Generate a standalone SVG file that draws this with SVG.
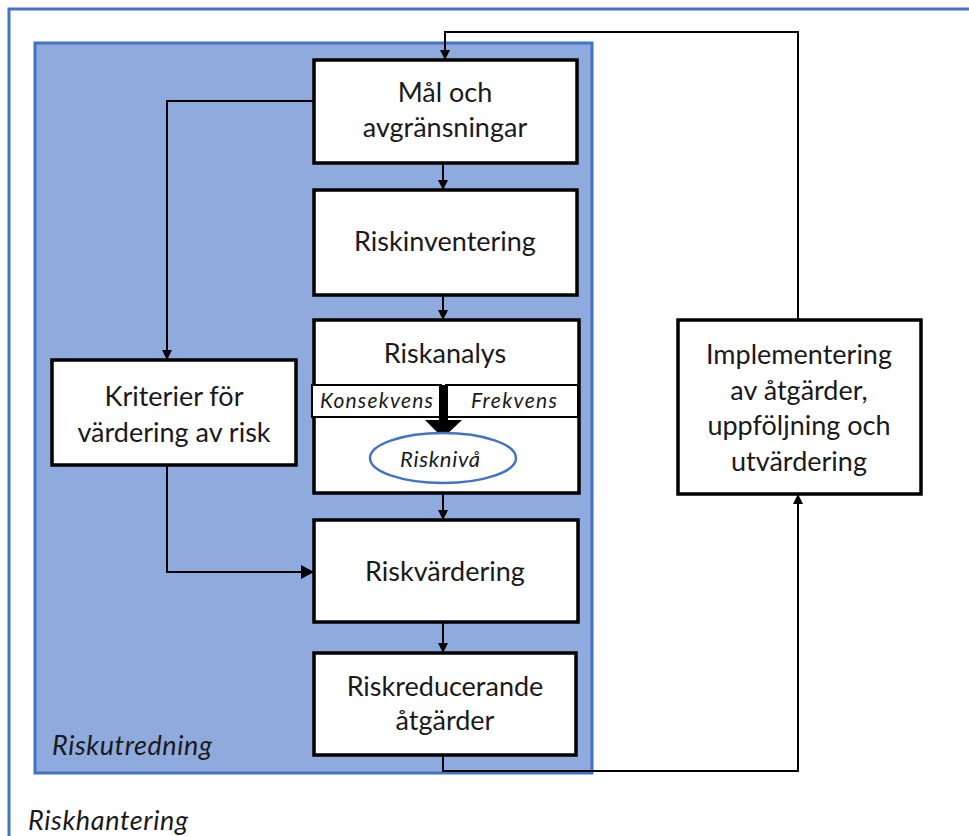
<svg xmlns="http://www.w3.org/2000/svg" width="969" height="836" viewBox="0 0 969 836">
<defs>
<marker id="ah" markerWidth="10" markerHeight="10" refX="9" refY="5" orient="auto" markerUnits="userSpaceOnUse" viewBox="0 0 10 10">
<path d="M0,0 L10,5 L0,10 z" fill="#000"/>
</marker>
<marker id="ahs" markerWidth="13" markerHeight="14" refX="12" refY="7" orient="auto" markerUnits="userSpaceOnUse" viewBox="0 0 13 14">
<path d="M0,0 L13,7 L0,14 z" fill="#000"/>
</marker>
</defs>
<style>
.box{fill:#fff;stroke:#000;stroke-width:3.5}
.sub{fill:#fff;stroke:#000;stroke-width:2}
.t{font-family:Lato,"Open Sans","Liberation Sans",sans-serif;font-size:27px;fill:#1a1a1a;text-anchor:middle}
.i{font-family:Lato,"Open Sans","Liberation Sans",sans-serif;font-style:italic;fill:#1a1a1a}
.c{fill:none;stroke:#000;stroke-width:2}
</style>
<rect width="969" height="836" fill="#fff"/>
<rect x="9" y="9" width="1000" height="900" fill="none" stroke="#4472C4" stroke-width="3"/>
<rect id="riskutredning" x="35" y="43" width="557" height="730" fill="#8FAADC" stroke="#4472C4" stroke-width="3"/>
<text class="i" x="52" y="755" font-size="27" textLength="160">Riskutredning</text>
<text class="i" x="28" y="830" font-size="27" textLength="160">Riskhantering</text>

<g id="connectors">
<path class="c" d="M443,163 V189" marker-end="url(#ah)"/>
<path class="c" d="M443,295 V319" marker-end="url(#ah)"/>
<path class="c" d="M443,494 V519" marker-end="url(#ah)"/>
<path class="c" d="M443,622 V652" marker-end="url(#ah)"/>
<path class="c" d="M314,101 H167 V359" marker-end="url(#ah)"/>
<path class="c" d="M167,466 V572 H313" marker-end="url(#ahs)"/>
<path class="c" d="M443,756 V771 H798 V495" marker-end="url(#ah)"/>
<path class="c" d="M798,320 V32 H445 V59" marker-end="url(#ah)"/>
</g>

<g id="n-mal">
<rect class="box" x="314" y="60" width="263" height="103"/>
<text class="t" x="445" y="102">Mål och</text>
<text class="t" x="445" y="137">avgränsningar</text>
</g>
<g id="n-riskinventering">
<rect class="box" x="314" y="190" width="263" height="105"/>
<text class="t" x="445" y="251">Riskinventering</text>
</g>
<g id="n-riskanalys">
<rect class="box" x="314" y="320" width="265" height="173"/>
<text class="t" x="445" y="363">Riskanalys</text>
<rect class="sub" x="312" y="385" width="129" height="32"/>
<rect class="sub" x="446" y="385" width="132" height="32"/>
<text class="i" x="320" y="408" font-size="21" textLength="113">Konsekvens</text>
<text class="i" x="471" y="408" font-size="21" textLength="86">Frekvens</text>
<rect x="439" y="385" width="9" height="36" fill="#000"/>
<path d="M425,420 L462,420 L443,438 z" fill="#000"/>
<ellipse cx="443" cy="458" rx="73" ry="25" fill="#fff" stroke="#4472C4" stroke-width="2.5"/>
<text class="i" x="400" y="467" font-size="22" textLength="80">Risknivå</text>
</g>
<g id="n-kriterier">
<rect class="box" x="52" y="360" width="244" height="105"/>
<text class="t" x="174" y="406">Kriterier för</text>
<text class="t" x="174" y="442">värdering av risk</text>
</g>
<g id="n-riskvardering">
<rect class="box" x="314" y="520" width="264" height="102"/>
<text class="t" x="445" y="581">Riskvärdering</text>
</g>
<g id="n-riskreducerande">
<rect class="box" x="314" y="653" width="262" height="102"/>
<text class="t" x="445" y="696">Riskreducerande</text>
<text class="t" x="445" y="730">åtgärder</text>
</g>
<g id="n-implementering">
<rect class="box" x="678" y="320" width="243" height="174"/>
<text class="t" x="799" y="364">Implementering</text>
<text class="t" x="799" y="400">av åtgärder,</text>
<text class="t" x="799" y="435">uppföljning och</text>
<text class="t" x="799" y="471">utvärdering</text>
</g>
</svg>
